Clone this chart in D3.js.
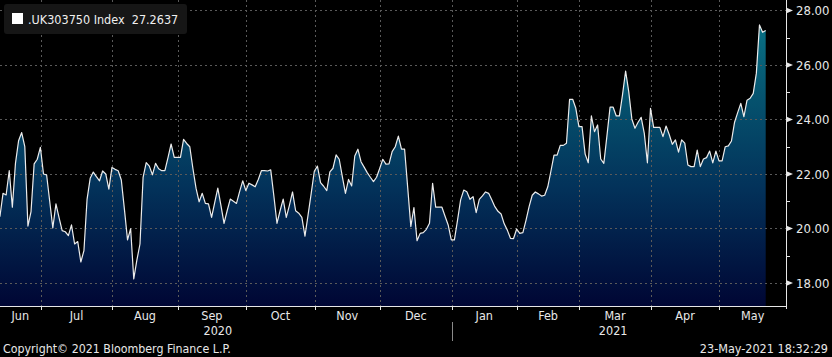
<!DOCTYPE html>
<html>
<head>
<meta charset="utf-8">
<script src="https://cdn.jsdelivr.net/npm/d3@7"></script>
<style>
html,body{margin:0;padding:0;background:#000;}
svg{display:block;}
text{font-family:"DejaVu Sans Condensed","Liberation Sans Narrow","Roboto Condensed",sans-serif;}
</style>
</head>
<body>
<svg id="chart" width="832" height="357"></svg>
<script>
// ---------- data ----------
const seriesName = ".UK303750 Index";
const lastValue = 27.2637;
const startDate = new Date(2020, 5, 11);
const endDate = new Date(2021, 4, 21);
const values = [
20.43,21.29,21.23,22.12,20.78,22.39,23.22,23.52,23.00,20.09,
20.62,22.37,22.54,22.98,22.00,21.97,21.00,20.02,20.90,20.40,
19.92,19.88,19.74,20.13,19.43,19.52,18.77,19.19,21.07,21.84,
22.07,21.90,21.75,22.11,22.00,21.44,22.24,22.17,22.12,21.78,
20.70,19.58,19.99,18.15,18.84,19.43,21.88,22.42,22.29,21.97,
22.39,22.19,22.12,22.12,22.60,23.10,22.61,22.61,22.61,23.27,
23.12,23.00,22.20,21.48,20.98,21.29,20.92,20.90,20.41,20.95,
21.48,20.85,20.19,20.65,21.08,21.00,20.92,21.35,21.75,21.39,
21.66,21.60,21.53,21.80,22.12,22.12,22.11,22.15,21.20,20.19,
20.65,21.08,20.41,20.85,21.34,20.65,20.56,20.41,19.72,20.50,
21.29,22.10,22.29,21.68,21.55,21.39,22.08,22.21,22.70,22.54,
21.90,21.29,21.80,21.56,22.66,22.91,22.45,22.25,22.05,21.88,
21.72,21.88,22.20,22.54,22.36,22.37,22.82,23.00,23.39,22.91,
22.91,21.50,20.07,20.77,19.55,19.82,19.85,19.97,20.19,21.66,
20.78,20.78,20.78,20.45,20.13,19.58,19.58,20.30,21.05,21.41,
21.35,21.07,21.17,20.58,21.07,21.20,21.34,21.29,21.05,20.80,
20.63,20.53,20.17,19.94,19.64,19.63,19.98,19.82,19.85,20.30,
20.80,21.22,21.34,21.27,21.19,21.22,21.53,22.10,22.69,22.69,
23.05,23.05,23.13,24.74,24.74,24.41,23.74,23.74,22.73,22.41,
24.13,23.55,23.80,22.55,22.39,23.40,24.45,24.45,24.13,24.13,
24.90,25.78,25.02,24.02,23.68,23.90,24.08,23.49,22.41,24.41,
23.71,23.71,23.71,23.37,23.76,23.45,23.09,23.25,22.80,23.25,
23.13,22.33,22.27,22.27,22.88,22.27,22.55,22.60,22.84,22.41,
22.84,22.48,22.48,23.00,23.03,23.21,23.90,24.25,24.59,24.10,
24.71,24.78,24.96,25.70,27.47,27.20,27.2637
];
const yTicks = [18, 20, 22, 24, 26, 28];
const yMinorTicks = [19, 21, 23, 25, 27];
const monthFormat = d3.timeFormat("%b");
const yearLabels = [
  {label: "2020", date: new Date(2020, 8, 17)},
  {label: "2021", date: new Date(2021, 2, 15)}
];
const copyright = "Copyright\u00A9 2021 Bloomberg Finance L.P.";
const stamp = "23-May-2021 18:32:29";

// ---------- layout ----------
const W = 832, H = 357;
const plot = {left: 0, right: 786, top: 0, bottom: 306};

const days = d3.timeDay.range(startDate, d3.timeDay.offset(endDate, 1))
  .filter(d => d.getDay() !== 0 && d.getDay() !== 6);
const data = days.map((d, i) => ({date: d, i: i, v: values[i]}));

const x = d3.scaleLinear().domain([0, data.length - 1]).range([-0.1, 765.7]);
const y = d3.scaleLinear().domain([17.155, 28.385]).range([plot.bottom, plot.top]);

const svg = d3.select("#chart");
svg.append("rect").attr("width", W).attr("height", H).attr("fill", "#000");

// gradient
const defs = svg.append("defs");
const grad = defs.append("linearGradient").attr("id", "fillGrad")
  .attr("gradientUnits", "userSpaceOnUse")
  .attr("x1", 0).attr("x2", 0).attr("y1", y(28)).attr("y2", plot.bottom);
grad.append("stop").attr("offset", 0).attr("stop-color", "#0a7688");
grad.append("stop").attr("offset", 0.3).attr("stop-color", "#05526e");
grad.append("stop").attr("offset", 0.6).attr("stop-color", "#03325a");
grad.append("stop").attr("offset", 1).attr("stop-color", "#000634");

// month boundaries (between last trading day of previous month and first of new)
const boundaries = [];
for (let i = 1; i < data.length; i++) {
  if (data[i].date.getMonth() !== data[i - 1].date.getMonth()) {
    boundaries.push({pos: i - 0.9, date: data[i].date});
  }
}

// area + line
const area = d3.area().x(d => x(d.i)).y0(plot.bottom).y1(d => y(d.v));
svg.append("path").datum(data).attr("d", area).attr("fill", "url(#fillGrad)");

// gridlines
const grid = svg.append("g").attr("stroke", "#5a5a5a").attr("stroke-width", 1)
  .attr("stroke-dasharray", "2,3");
grid.selectAll("line.h").data(yTicks).join("line")
  .attr("x1", plot.left).attr("x2", plot.right)
  .attr("y1", d => Math.round(y(d)) + 0.5).attr("y2", d => Math.round(y(d)) + 0.5);
grid.selectAll("line.v").data(boundaries).join("line")
  .attr("x1", d => Math.round(x(d.pos)) + 0.5).attr("x2", d => Math.round(x(d.pos)) + 0.5)
  .attr("y1", plot.top).attr("y2", plot.bottom);

const line = d3.line().x(d => x(d.i)).y(d => y(d.v));
svg.append("path").datum(data).attr("d", line)
  .attr("fill", "none").attr("stroke", "#ececec").attr("stroke-width", 1.2)
  .attr("stroke-linejoin", "round");

// right axis
const ax = svg.append("g");
ax.append("line").attr("x1", plot.right + 0.5).attr("x2", plot.right + 0.5)
  .attr("y1", plot.top).attr("y2", plot.bottom + 3).attr("stroke", "#e6e6e6");
ax.selectAll("path.tri").data(yTicks).join("path")
  .attr("d", d => `M${plot.right},${y(d) - 3}L${plot.right + 7},${y(d)}L${plot.right},${y(d) + 3}Z`)
  .attr("fill", "#e6e6e6");
ax.selectAll("line.minor").data(yMinorTicks).join("line")
  .attr("x1", plot.right).attr("x2", plot.right + 4)
  .attr("y1", d => Math.round(y(d)) + 0.5).attr("y2", d => Math.round(y(d)) + 0.5)
  .attr("stroke", "#e6e6e6");
ax.selectAll("text").data(yTicks).join("text")
  .attr("x", plot.right + 10).attr("y", d => y(d)).attr("dy", "0.36em")
  .attr("fill", "#e8e8e8").attr("font-size", 13)
  .text(d => d3.format(".2f")(d));

// bottom axis
const bx = svg.append("g");
bx.append("line").attr("x1", plot.left).attr("x2", plot.right + 1)
  .attr("y1", plot.bottom + 0.5).attr("y2", plot.bottom + 0.5).attr("stroke", "#e6e6e6");
bx.selectAll("line.t").data(boundaries).join("line")
  .attr("x1", d => Math.round(x(d.pos)) + 0.5).attr("x2", d => Math.round(x(d.pos)) + 0.5)
  .attr("y1", plot.bottom).attr("y2", plot.bottom + 4).attr("stroke", "#e6e6e6");

const edges = [plot.left, ...boundaries.map(b => x(b.pos)), plot.right];
const monthDates = [data[0].date, ...boundaries.map(b => b.date)];
bx.selectAll("text.m").data(monthDates).join("text")
  .attr("x", (d, k) => (edges[k] + edges[k + 1]) / 2)
  .attr("y", 320).attr("text-anchor", "middle")
  .attr("fill", "#e8e8e8").attr("font-size", 12.5)
  .text(d => monthFormat(d));

const dayIndex = d => d3.bisector(e => e.date).left(data, d);
bx.selectAll("text.y").data(yearLabels).join("text")
  .attr("x", d => x(dayIndex(d.date)))
  .attr("y", 335).attr("text-anchor", "middle")
  .attr("fill", "#e8e8e8").attr("font-size", 12.5)
  .text(d => d.label);
const yearBreak = boundaries.find(b => b.date.getFullYear() === 2021 && b.date.getMonth() === 0);
bx.append("line")
  .attr("x1", Math.round(x(yearBreak.pos)) + 0.5).attr("x2", Math.round(x(yearBreak.pos)) + 0.5)
  .attr("y1", 322).attr("y2", 341).attr("stroke", "#8a8a8a");

// footer
svg.append("text").attr("x", 3).attr("y", 353).attr("fill", "#e8e8e8")
  .attr("font-size", 12.3).text(copyright);
svg.append("text").attr("x", 828).attr("y", 353).attr("text-anchor", "end")
  .attr("fill", "#e8e8e8").attr("font-size", 12.5).text(stamp);

// legend
const lg = svg.append("g");
lg.append("rect").attr("x", 4).attr("y", 4).attr("width", 183).attr("height", 30)
  .attr("rx", 3).attr("fill", "#161616");
lg.append("rect").attr("x", 12).attr("y", 13).attr("width", 11).attr("height", 11).attr("fill", "#fff");
lg.append("text").attr("x", 28).attr("y", 24).attr("fill", "#f0f0f0").attr("font-size", 12.5)
  .attr("xml:space", "preserve").style("white-space", "pre")
  .text(`${seriesName}  ${d3.format(".4f")(lastValue)}`);
</script>
</body>
</html>
